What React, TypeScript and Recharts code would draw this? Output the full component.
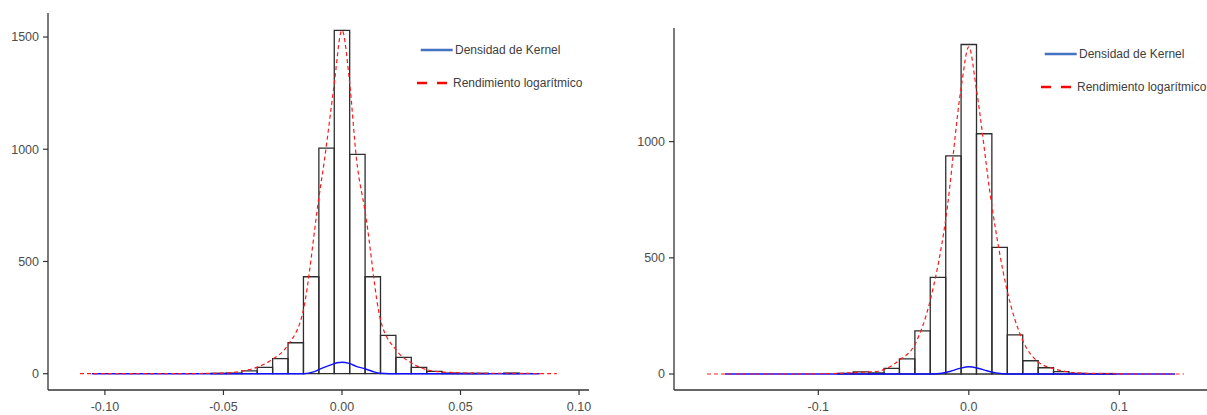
import React from 'react';
import { ComposedChart, Line, XAxis, YAxis, ReferenceArea, Legend } from 'recharts';

// ---------- Left panel data ----------
const leftBinWidth = 0.0065;
const leftBinCenters = [-0.052, -0.0455, -0.039, -0.0325, -0.026, -0.0195, -0.013, -0.0065, 0, 0.0065, 0.013, 0.0195, 0.026, 0.0325, 0.039, 0.0455, 0.052, 0.0585, 0.0715];
const leftBinCounts = [2, 3, 13, 28, 67, 138, 432, 1005, 1530, 977, 432, 171, 73, 28, 10, 3, 2, 2, 3];

const leftRedX = [-0.1105, -0.08, -0.06, -0.05, -0.042, -0.036, -0.0296, -0.023, -0.0163, -0.0098, -0.0073, -0.0035, 0, 0.0032, 0.0061, 0.0099, 0.0163, 0.0229, 0.0295, 0.036, 0.042, 0.05, 0.06, 0.07, 0.08, 0.0906];
const leftRedY = [0, 0, 1, 3, 12, 28, 62, 125, 283, 780, 959, 1270, 1530, 1300, 959, 714, 238, 105, 47, 17, 8, 4, 2, 2, 1, 0];

const leftBlueX = [-0.1055, -0.03, -0.016, -0.012, -0.0094, -0.005, -0.002, 0, 0.003, 0.006, 0.0103, 0.013, 0.016, 0.02, 0.0834];
const leftBlueY = [0, 0, 0, 8, 20, 38, 49, 51, 46, 33, 20, 10, 2, 0, 0];

const leftXTicks = [-0.1, -0.05, 0, 0.05, 0.1];
const leftYTicks = [0, 500, 1000, 1500];

// ---------- Right panel data ----------
const rightBinWidth = 0.01024;
const rightBinCenters = [-0.0819, -0.0717, -0.0614, -0.0512, -0.041, -0.0307, -0.0205, -0.0102, 0, 0.0102, 0.0205, 0.0307, 0.041, 0.0512, 0.0614, 0.0717, 0.0819, 0.0922];
const rightBinCounts = [3, 9, 5, 24, 65, 186, 416, 939, 1418, 1034, 545, 168, 57, 27, 10, 3, 1, 2];

const rightRedX = [-0.174, -0.12, -0.09, -0.08, -0.07, -0.06, -0.056, -0.0461, -0.036, -0.0256, -0.0154, -0.005, 0, 0.0051, 0.0154, 0.0254, 0.0357, 0.0459, 0.056, 0.065, 0.075, 0.09, 0.11, 0.143];
const rightRedY = [0, 0, 2, 5, 8, 12, 20, 60, 125, 318, 663, 1236, 1408, 1222, 720, 361, 146, 53, 24, 10, 4, 2, 0, 0];

const rightBlueX = [-0.162, -0.024, -0.018, -0.012, -0.006, 0, 0.006, 0.012, 0.018, 0.027, 0.137];
const rightBlueY = [0, 0, 3, 12, 24, 31, 25, 14, 5, 0, 0];

const rightXTicks = [-0.1, 0, 0.1];
const rightYTicks = [0, 500, 1000];

const legendLabels = ['Densidad de Kernel', 'Rendimiento logarítmico'];

// ---------- helpers ----------
const toPoints = (xs: number[], ys: number[]) => xs.map((x, i) => ({ x, y: ys[i] }));

const AXIS_COLOR = '#333333';
const TICK_STYLE = { fontSize: 12.5, fill: '#4d4d4d', fontFamily: 'Liberation Sans, Arial, sans-serif' };
const BLUE = '#1010ff';
const RED = '#ff1a1a';

type PanelProps = {
  width: number;
  marginTop: number;
  marginRight: number;
  xDomain: [number, number];
  yDomain: [number, number];
  xTicks: number[];
  yTicks: number[];
  decimals: number;
  binCenters: number[];
  binCounts: number[];
  binWidth: number;
  red: { x: number; y: number }[];
  blue: { x: number; y: number }[];
  legendLeft: number;
  legendTop: number;
};

const LegendBox = () => (
  <svg width={200} height={60} style={{ overflow: 'visible' }}>
    <line x1={10.7} x2={42.7} y1={15} y2={15} stroke="#4472c4" strokeWidth={2.5} />
    <text x={45} y={15} dominantBaseline="central" fontSize={12} fill="#404040" fontFamily="Liberation Sans, Arial, sans-serif">
      {legendLabels[0]}
    </text>
    <line x1={7} x2={37} y1={48} y2={48} stroke="#ff0000" strokeWidth={2.5} strokeDasharray="10 10" />
    <text x={43} y={48} dominantBaseline="central" fontSize={12} fill="#404040" fontFamily="Liberation Sans, Arial, sans-serif">
      {legendLabels[1]}
    </text>
  </svg>
);

const Panel = (p: PanelProps) => (
  <ComposedChart
    width={p.width}
    height={415}
    margin={{ top: p.marginTop, right: p.marginRight, bottom: 0, left: 0 }}
  >
    <XAxis
      dataKey="x"
      type="number"
      domain={p.xDomain}
      ticks={p.xTicks}
      allowDataOverflow
      height={25}
      tickSize={5}
      tickMargin={7}
      stroke={AXIS_COLOR}
      axisLine={{ stroke: AXIS_COLOR, strokeWidth: 1.3 }}
      tickLine={{ stroke: AXIS_COLOR, strokeWidth: 1.2 }}
      tick={TICK_STYLE}
      tickFormatter={(v: number) => v.toFixed(p.decimals)}
    />
    <YAxis
      type="number"
      domain={p.yDomain}
      ticks={p.yTicks}
      allowDataOverflow
      width={48}
      tickSize={5}
      tickMargin={4}
      stroke={AXIS_COLOR}
      axisLine={{ stroke: AXIS_COLOR, strokeWidth: 1.3 }}
      tickLine={{ stroke: AXIS_COLOR, strokeWidth: 1.2 }}
      tick={TICK_STYLE}
    />
    {p.binCenters.map((c, i) => (
      <ReferenceArea
        key={i}
        x1={c - p.binWidth / 2}
        x2={c + p.binWidth / 2}
        y1={0}
        y2={p.binCounts[i]}
        fill="none"
        fillOpacity={0}
        stroke="#2e2e2e"
        strokeWidth={1.3}
        ifOverflow="visible"
      />
    ))}
    <Line
      data={p.blue}
      dataKey="y"
      type="monotone"
      stroke={BLUE}
      strokeWidth={1.4}
      dot={false}
      activeDot={false}
      isAnimationActive={false}
    />
    <Line
      data={p.red}
      dataKey="y"
      type="monotone"
      stroke={RED}
      strokeWidth={1.2}
      strokeDasharray="4 3"
      dot={false}
      activeDot={false}
      isAnimationActive={false}
    />
    <Legend
      layout="vertical"
      align="center"
      verticalAlign="middle"
      content={() => <LegendBox />}
      wrapperStyle={{ position: 'absolute', left: p.legendLeft, top: p.legendTop, width: 200, height: 60 }}
    />
  </ComposedChart>
);

export default function App() {
  return (
    <div
      style={{
        position: 'absolute',
        left: 0,
        top: 0,
        width: 1207,
        height: 415,
        overflow: 'hidden',
        background: '#ffffff',
      }}
    >
      <div style={{ position: 'absolute', left: 0, top: 0 }}>
        <Panel
          width={600}
          marginTop={13}
          marginRight={11}
          xDomain={[-0.124, 0.1042]}
          yDomain={[-72.6, 1607]}
          xTicks={leftXTicks}
          yTicks={leftYTicks}
          decimals={2}
          binCenters={leftBinCenters}
          binCounts={leftBinCounts}
          binWidth={leftBinWidth}
          red={toPoints(leftRedX, leftRedY)}
          blue={toPoints(leftBlueX, leftBlueY)}
          legendLeft={410}
          legendTop={35}
        />
      </div>
      <div style={{ position: 'absolute', left: 626, top: 0 }}>
        <Panel
          width={589}
          marginTop={28}
          marginRight={0}
          xDomain={[-0.1959, 0.1636]}
          yDomain={[-68.8, 1489]}
          xTicks={rightXTicks}
          yTicks={rightYTicks}
          decimals={1}
          binCenters={rightBinCenters}
          binCounts={rightBinCounts}
          binWidth={rightBinWidth}
          red={toPoints(rightRedX, rightRedY)}
          blue={toPoints(rightBlueX, rightBlueY)}
          legendLeft={1034 - 626}
          legendTop={39}
        />
      </div>
    </div>
  );
}
